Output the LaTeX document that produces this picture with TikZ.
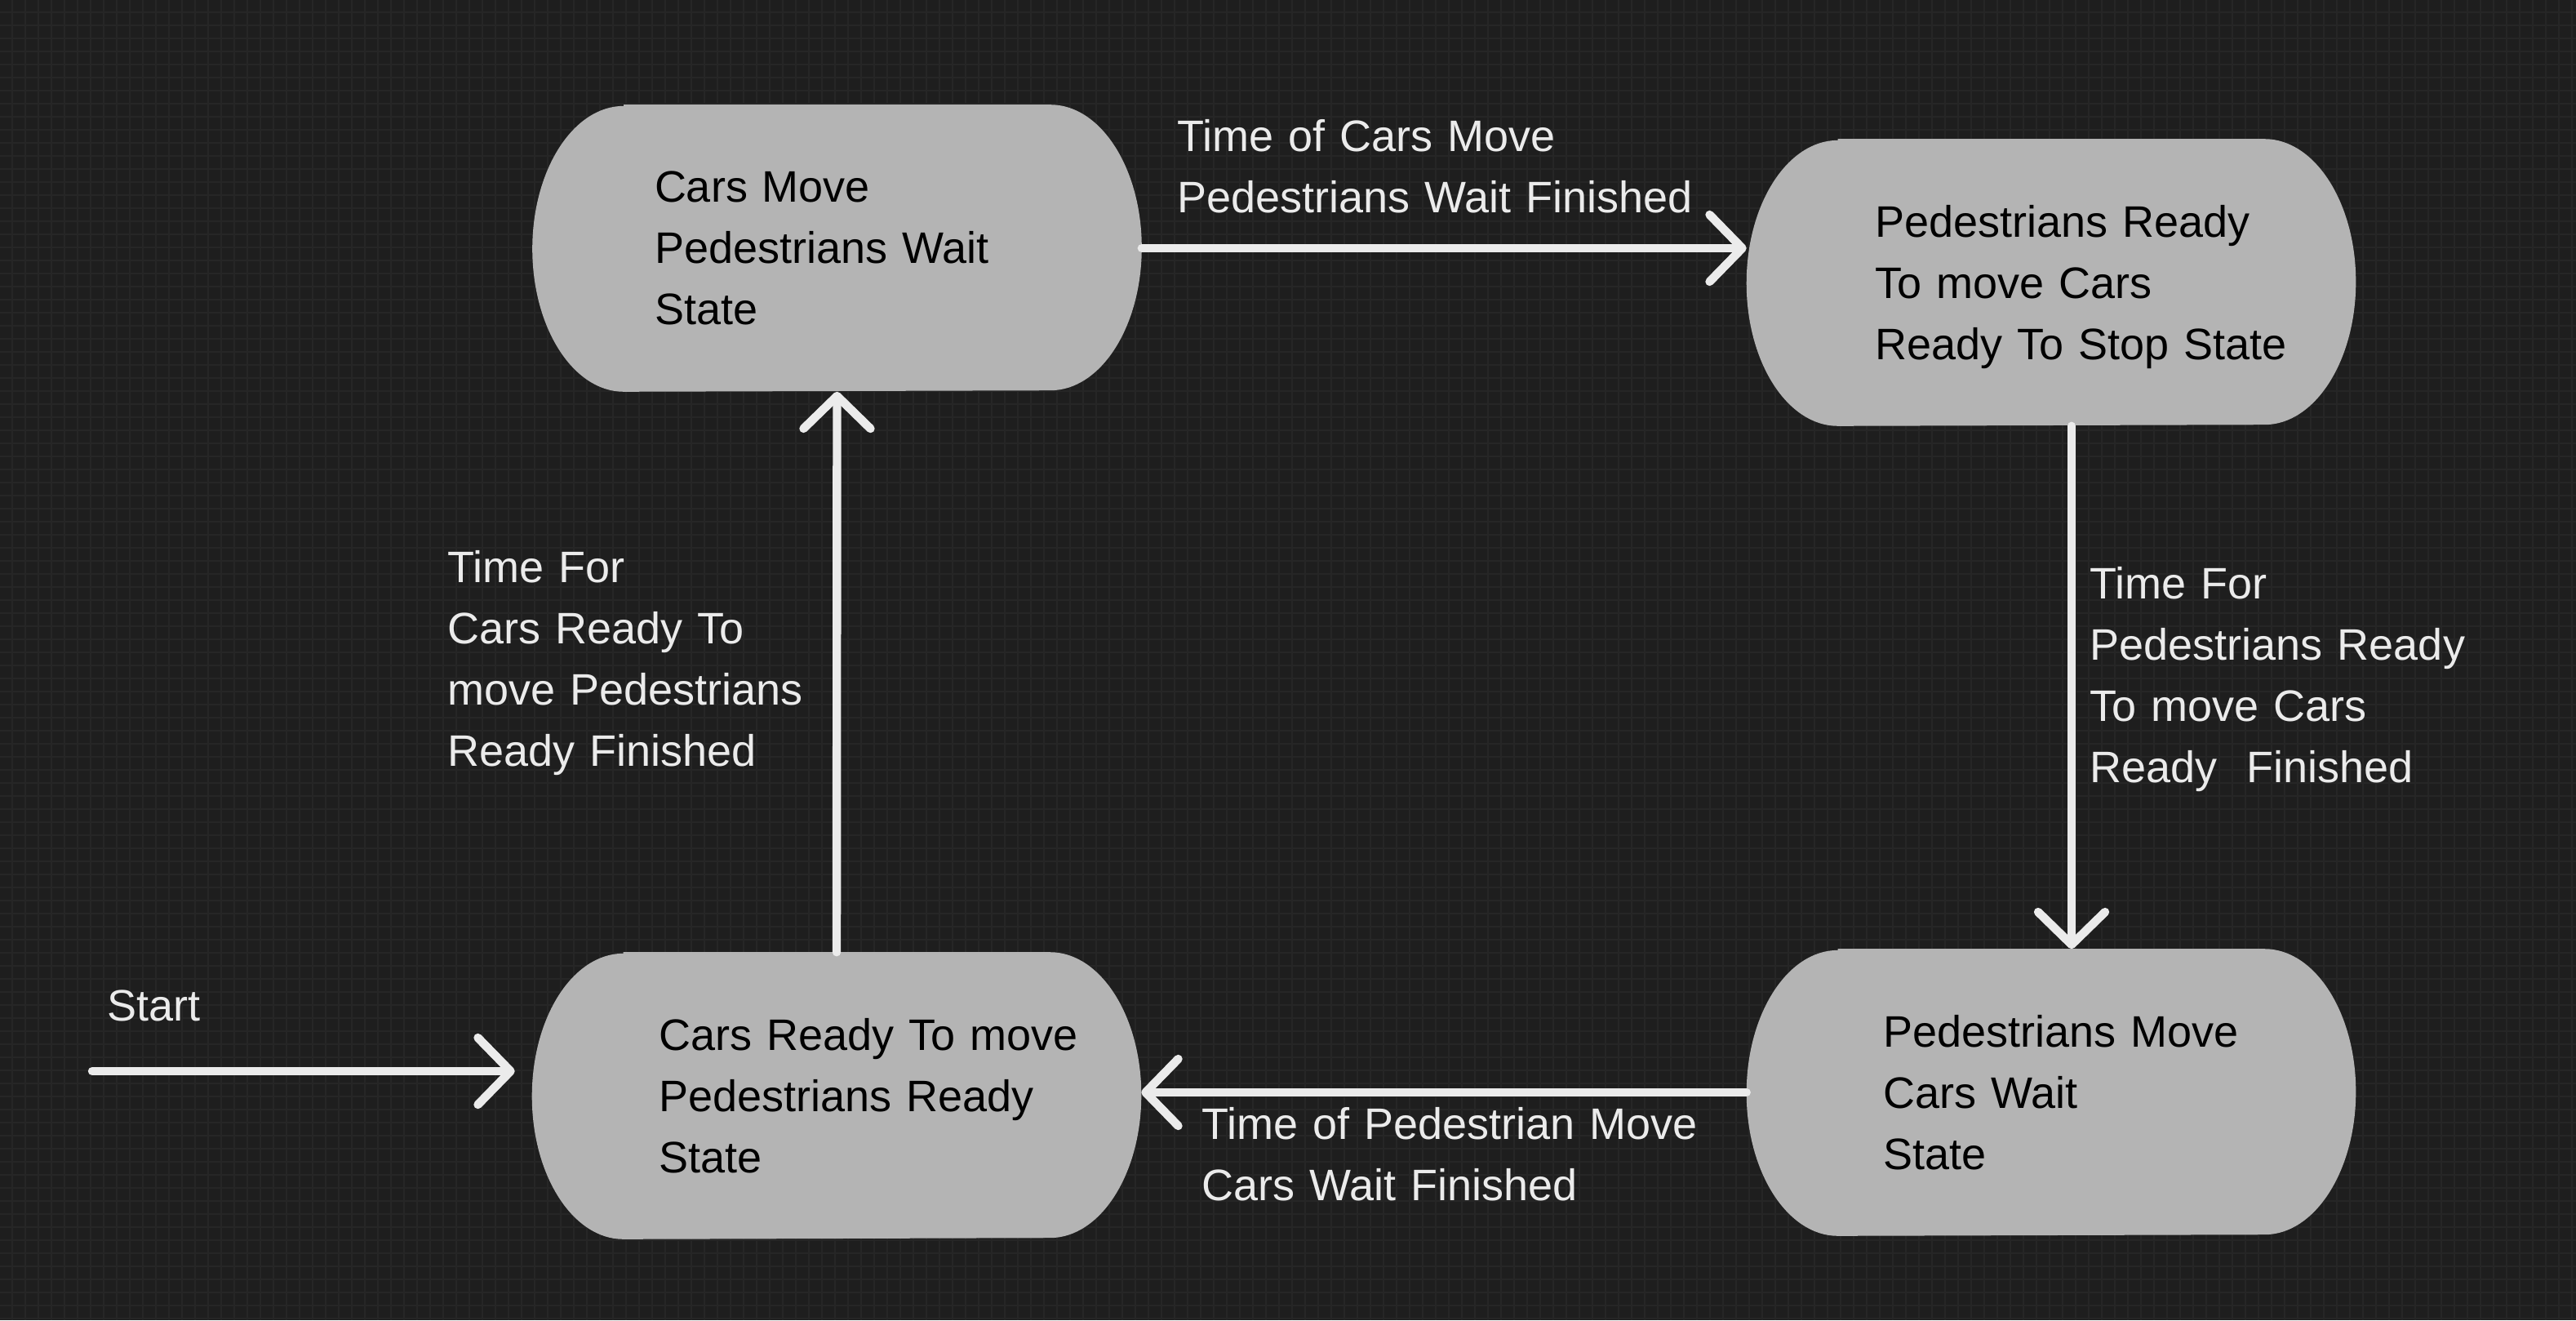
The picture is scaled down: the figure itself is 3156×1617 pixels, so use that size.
\documentclass[tikz,border=0pt]{standalone}
\usepackage{fontspec}
\setmainfont{Liberation Sans}
\usetikzlibrary{arrows.meta}
\pgfdeclarelayer{background}
\pgfsetlayers{background,main}
\definecolor{bgcol}{HTML}{1E1E1E}
\definecolor{gridcol}{HTML}{262626}
\definecolor{boxcol}{HTML}{B4B4B4}
\definecolor{linecol}{HTML}{EBEBEB}
\newcommand{\labelfont}{\fontsize{13.5pt}{18.75pt}\selectfont}
\def\statenames{s1, s2, s3, s4}
\tikzset{state/.style={text width=186.25pt, inner xsep=0pt, inner ysep=0pt,
  minimum height=87.5pt, text depth=37.5pt, align=left, font=\labelfont, text=black,
  execute at begin node={\leftskip=#1\relax}}}
\tikzstyle{edgelabel}=[text width=170pt, align=left, inner sep=0pt, anchor=base west, font=\labelfont, text=linecol]
\tikzstyle{flow}=[draw=linecol, line width=2.6pt, line cap=round, -{Straight Barb[length=10pt, width=20.5pt, round]}]
\tikzstyle{statefill}=[fill=boxcol]
\tikzstyle{gridline}=[draw=gridcol, line width=0.5pt]

\begin{document}
\begin{tikzpicture}[x=0.25pt, y=-0.25pt]
  \useasboundingbox (0,0) rectangle (3156,1617);
  % Dark squared paper first
  \begin{pgfonlayer}{background}
    \fill[bgcol] (0,0) rectangle (3156,1617);
    \foreach \gx in {15,31,...,3156}
      \path[gridline] (\gx,0) -- (\gx,1617);
    \foreach \gy in {15,31,...,1617}
      \path[gridline] (0,\gy) -- (3156,\gy);
  \end{pgfonlayer}

  % The four states
  \node[state=37.25pt] (s1) at (1025.5,304) {Cars Move\\Pedestrians Wait\\State};
  \node[state=39.25pt] (s2) at (2513,346) {Pedestrians Ready\\To move Cars\\Ready To Stop State};
  \node[state=38.75pt] (s3) at (1025,1342) {Cars Ready To move\\Pedestrians Ready\\State};
  \node[state=41.75pt] (s4) at (2513,1338) {Pedestrians Move\\Cars Wait\\State};

  % Transitions
  \coordinate (start) at (113,1312);
  \draw[flow, shorten >=5.25pt] (start) -- (start -| s3.west);
  \draw[flow] (s1.east) -- (s1.east -| s2.west);
  \draw[flow] ([xshift=6.25pt]s2.south) -- ([xshift=6.25pt]s4.north);
  \draw[flow] (s4.west) -- (s4.west -| s3.east);
  \draw[flow] (s3.north) -- (s1.south);

  % Transition labels
  \node[edgelabel] (tstart) at (131,1250) {Start};
  \node[edgelabel] (t12) at (1442,185) {Time of Cars Move\\Pedestrians Wait Finished};
  \node[edgelabel] (t24) at (2560,733) {Time For\\Pedestrians Ready\\To move Cars\\Ready\ \ Finished};
  \node[edgelabel] (t43) at (1472,1395) {Time of Pedestrian Move\\Cars Wait Finished};
  \node[edgelabel] (t31) at (548,713) {Time For\\Cars Ready To\\move Pedestrians\\Ready Finished};

  % Rounded state shapes behind the text
  \begin{pgfonlayer}{background}
    \foreach \name in \statenames
      \path[statefill] ([xshift=28pt]\name.north west) -- ([xshift=-28pt]\name.north east)
        arc[start angle=90, end angle=-90, x radius=28pt, y radius=43.75pt]
        -- ([xshift=28pt]\name.south west)
        arc[start angle=270, end angle=90, x radius=28pt, y radius=43.75pt] -- cycle;
  \end{pgfonlayer}
\end{tikzpicture}
\end{document}
